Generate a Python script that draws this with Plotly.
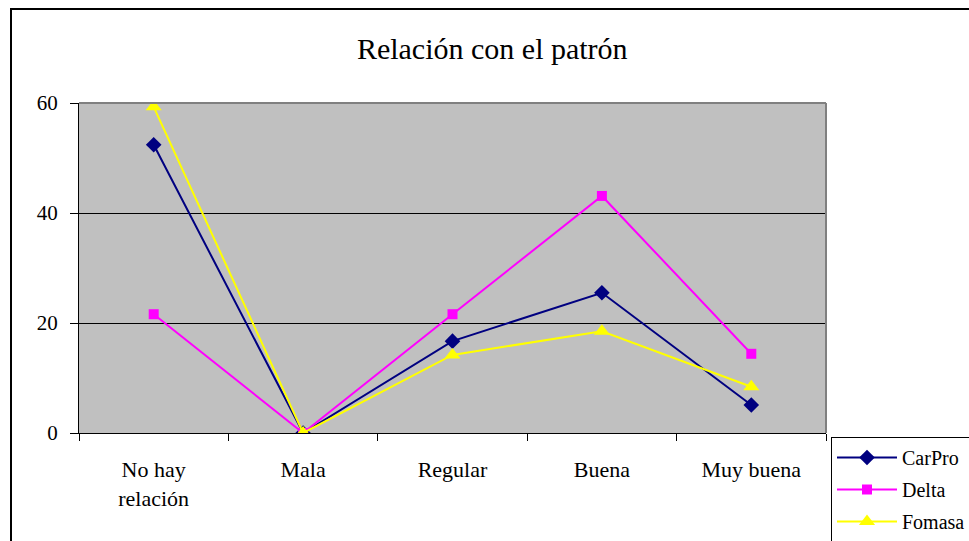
import plotly.graph_objects as go

# Relación con el patrón: share of responses per category (%)
categorias = ["No hay<br>relación", "Mala", "Regular", "Buena", "Muy buena"]
carpro = [52.4, 0, 16.7, 25.5, 5.1]
delta = [21.6, 0, 21.6, 43.1, 14.4]
fomasa = [59.3, 0, 14.2, 18.5, 8.4]

serif = "Liberation Serif, Times New Roman, serif"

fig = go.Figure()
fig.add_trace(go.Scatter(
    x=categorias, y=carpro, name="CarPro", mode="lines+markers",
    legendgroup="carpro",
    line=dict(color="#000080", width=2),
    marker=dict(symbol="diamond", size=12, color="#000080"),
))
fig.add_trace(go.Scatter(
    x=categorias, y=delta, name="Delta", mode="lines+markers",
    legendgroup="delta",
    line=dict(color="#FF00FF", width=2),
    marker=dict(symbol="square", size=10, color="#FF00FF"),
))
fig.add_trace(go.Scatter(
    x=categorias, y=fomasa, name="Fomasa", mode="lines+markers",
    legendgroup="fomasa",
    line=dict(color="#FFFF00", width=2),
    marker=dict(symbol="triangle-up", size=14, color="#FFFF00"),
))

fig.update_layout(
    width=969, height=541,
    margin=dict(l=79, r=143, t=103, b=108, autoexpand=False),
    paper_bgcolor="white",
    plot_bgcolor="#C0C0C0",
    font=dict(family=serif, size=20, color="black"),
    title=dict(text="Relación con el patrón", x=0.508, xanchor="center",
               y=0.91, yanchor="middle",
               font=dict(family=serif, size=30, color="black")),
    showlegend=True,
    legend=dict(
        x=(831 - 79) / 747, xref="paper", xanchor="left",
        y=(433 - 437) / 330, yref="paper", yanchor="top",
        bordercolor="black", borderwidth=1, bgcolor="white",
        font=dict(family=serif, size=20, color="black"),
        itemwidth=60, traceorder="grouped", tracegroupgap=3,
    ),
    xaxis=dict(
        range=[-0.5, 4.5], tickson="boundaries", ticks="outside",
        ticklen=7, tickcolor="black", showline=True, linecolor="black",
        linewidth=1, showgrid=False, tickfont=dict(family=serif, size=22),
        ticklabelstandoff=17,
    ),
    yaxis=dict(
        range=[0, 60], dtick=20, ticks="outside", ticklen=8,
        tickcolor="black", showline=True, linecolor="black", linewidth=1,
        showgrid=True, gridcolor="black", gridwidth=1, zeroline=False,
        ticklabelstandoff=8, tickfont=dict(family=serif, size=21),
    ),
    shapes=[
        # plot-area frame (grey on top and right)
        dict(type="line", xref="paper", yref="paper", x0=0, x1=1, y0=1, y1=1,
             line=dict(color="#808080", width=2), layer="above"),
        dict(type="line", xref="paper", yref="paper", x0=1, x1=1, y0=0, y1=1,
             line=dict(color="#808080", width=2), layer="above"),
        # outer chart border
        dict(type="rect", xref="paper", yref="paper",
             x0=-68 / 747, x1=1.3, y0=-0.5, y1=(433 - 9) / 330,
             line=dict(color="black", width=2), layer="below",
             fillcolor="rgba(0,0,0,0)"),
    ],
)

fig.write_html("out.html")
